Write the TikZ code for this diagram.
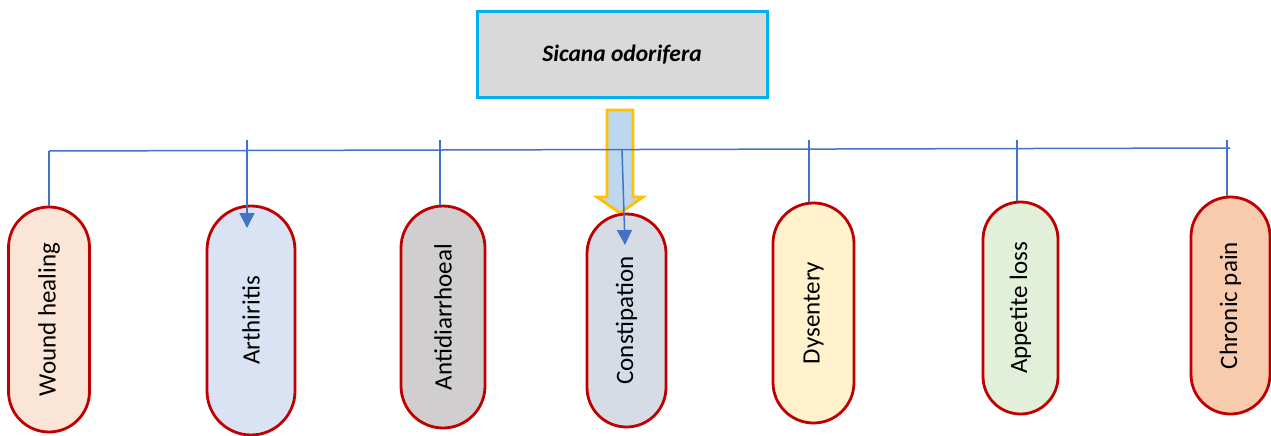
\documentclass[tikz,border=0pt]{standalone}
\usepackage{fontspec}
\setmainfont{Carlito}
\usetikzlibrary{arrows.meta, shapes.misc}
\definecolor{titlegray}{RGB}{217, 217, 217}
\definecolor{titlecyan}{RGB}{0, 176, 240}
\definecolor{linkblue}{RGB}{68, 114, 196}
\definecolor{pillred}{RGB}{192, 0, 0}
\definecolor{arrowgold}{RGB}{255, 192, 0}
\definecolor{arrowblue}{RGB}{189, 215, 238}
\definecolor{woundfill}{RGB}{251, 229, 214}
\definecolor{arthfill}{RGB}{218, 227, 243}
\definecolor{antifill}{RGB}{208, 206, 206}
\definecolor{constfill}{RGB}{214, 220, 229}
\definecolor{dysfill}{RGB}{255, 242, 204}
\definecolor{appfill}{RGB}{226, 240, 217}
\definecolor{chronfill}{RGB}{248, 203, 173}

\begin{document}
\begin{tikzpicture}[x=1pt, y=-1pt,
  pillbox/.style={shape=rounded rectangle, draw=pillred, line width=2.8pt, rotate=90, inner sep=0pt, font=\fontsize{25}{29}\selectfont},
  titlebox/.style={draw=titlecyan, fill=titlegray, line width=3pt, minimum width=290pt, minimum height=85pt, font=\fontsize{23.5}{28}\selectfont\bfseries\itshape},
  busline/.style={draw=linkblue, line width=1.5pt},
  tipline/.style={busline, -{Triangle[length=15pt, width=15pt]}},
  blockarrow/.style={draw=arrowgold, fill=arrowblue, line width=2.8pt, line join=miter}
]
  \useasboundingbox (0,0) rectangle (1271,436);

  \node[titlebox] (plant) at (622,54.5) {Sicana odorifera};

  % big arrow under the title
  \draw[blockarrow] (607,110) -- (633,110) -- (633,197) -- (643,197) -- (620,213)
    -- (597,197) -- (607,197) -- cycle;

  % uses
  \node[pillbox, fill=woundfill, minimum width=225pt, minimum height=81pt] (wound) at (49,319.5) {Wound healing};
  \node[pillbox, fill=arthfill, minimum width=229pt, minimum height=88pt] (arth) at (251,320.5) {Arthiritis};
  \node[pillbox, fill=antifill, minimum width=222pt, minimum height=84pt] (anti) at (443,317) {Antidiarrhoeal};
  \node[pillbox, fill=constfill, minimum width=213pt, minimum height=79pt] (const) at (626.5,320.5) {Constipation};
  \node[pillbox, fill=dysfill, minimum width=220pt, minimum height=81pt] (dys) at (813.5,313) {Dysentery};
  \node[pillbox, fill=appfill, minimum width=212pt, minimum height=75pt] (app) at (1020.5,308) {Appetite loss};
  \node[pillbox, fill=chronfill, minimum width=217pt, minimum height=79pt] (chron) at (1230.5,305.5) {Chronic pain};

  \coordinate (busL) at (49,151);
  \coordinate (busR) at (1230,148);
  \coordinate (arthTop) at (247,140);
  \coordinate (arthTip) at (247,228);
  \coordinate (antiTop) at (440,140);
  \coordinate (constTop) at (622,150);
  \coordinate (constTip) at (625,245);
  \coordinate (dysTop) at (809,140);
  \coordinate (appTop) at (1017,140);
  \coordinate (chronTop) at (1227,140);

  \draw[busline] (busL) -- (busR);
  \draw[busline] (busL) -- (busL |- wound.east);
  \draw[tipline] (arthTop) -- (arthTip);
  \draw[busline] (antiTop) -- (antiTop |- anti.east);
  \draw[tipline] (constTop) -- (constTip);
  \draw[busline] (dysTop) -- (dysTop |- dys.east);
  \draw[busline] (appTop) -- (appTop |- app.east);
  \draw[busline] (chronTop) -- (chronTop |- chron.east);
\end{tikzpicture}
\end{document}
